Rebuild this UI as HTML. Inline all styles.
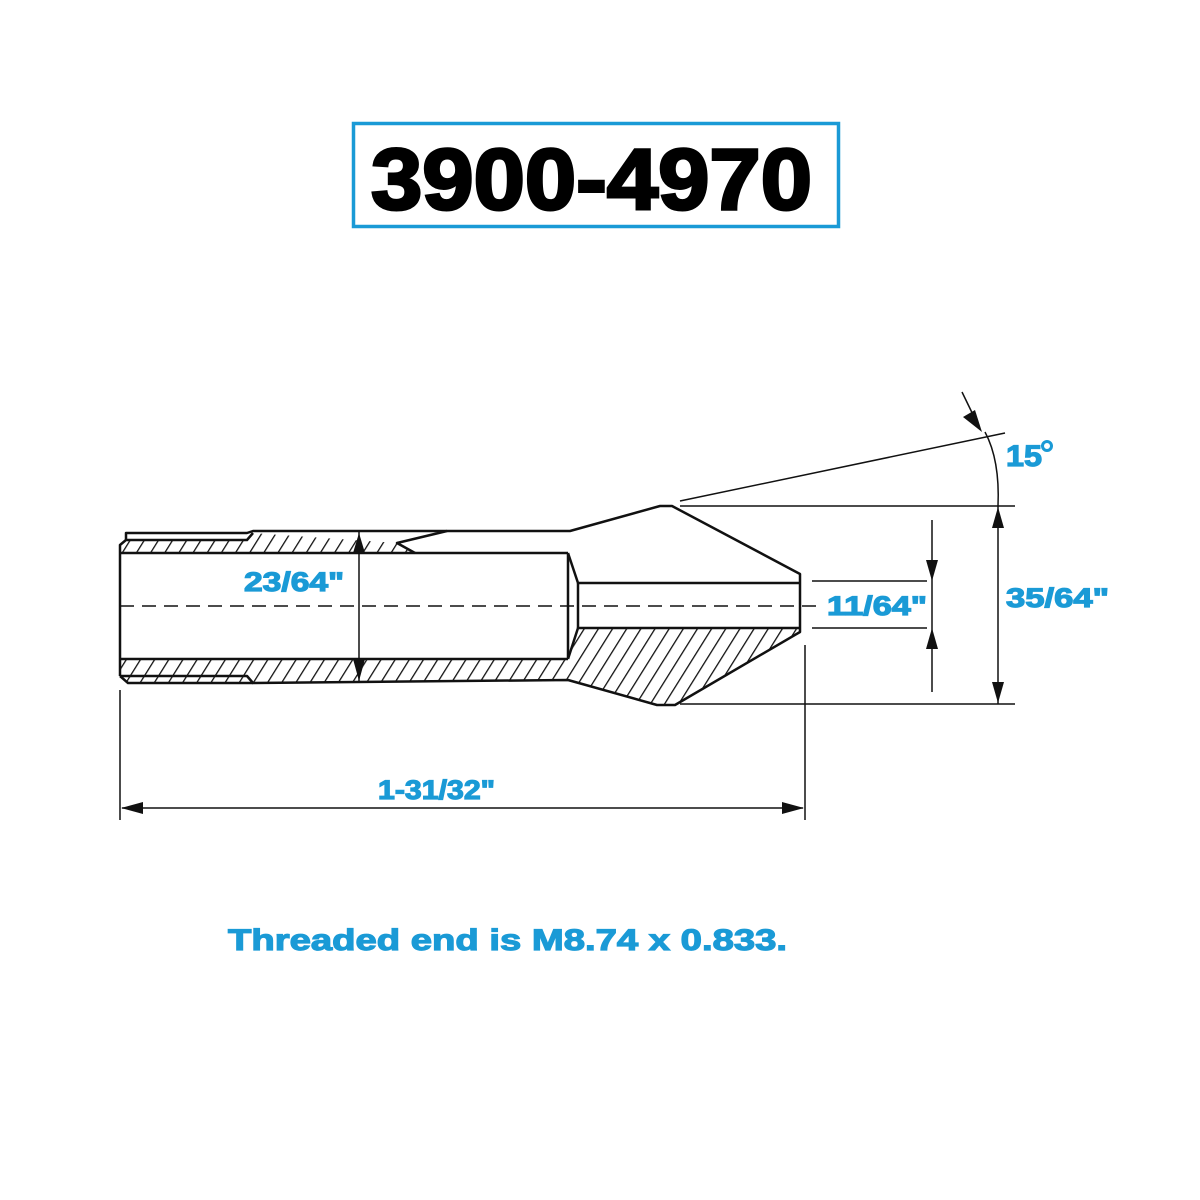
<!DOCTYPE html>
<html><head><meta charset="utf-8"><style>
html,body{margin:0;padding:0;background:#fff;}
svg{display:block;}
text{font-family:"Liberation Sans",Arial,sans-serif;font-weight:bold;}
</style></head><body>
<svg width="1200" height="1200" viewBox="0 0 1200 1200" xmlns="http://www.w3.org/2000/svg">
<defs>
<pattern id="h" patternUnits="userSpaceOnUse" width="12" height="12" patternTransform="rotate(32)">
<line x1="0" y1="0" x2="0" y2="12" stroke="#111" stroke-width="2.6"/>
</pattern>
</defs>
<rect x="0" y="0" width="1200" height="1200" fill="#fff"/>
<!-- title -->
<rect x="353.5" y="123.5" width="485" height="103" fill="none" stroke="#1a9ad6" stroke-width="3.5"/>
<text x="371" y="209" font-size="86" fill="#000" stroke="#000" stroke-width="3" textLength="441" lengthAdjust="spacingAndGlyphs">3900-4970</text>

<!-- hatched areas -->
<g fill="url(#h)">
<polygon points="120,540 253,540 253,533 397,543 415,553 120,553"/>
<polygon points="120,659 568,659 568,680 253,683 253,682 120,682"/>
<polygon points="578,628 800,628 800,632 675,705 657,705 568,680 568,659 578,628"/>
</g>

<g fill="none" stroke="#111" stroke-width="2.5" stroke-linejoin="round">
<polyline points="120,676 120,545 126,540 247,540 253,533"/>
<polyline points="126,540 126,533 247,533 253,531 570,531 660,506 672,506 800,574 800,632 675,705 657,705 568,680 253,683 247,676 126,676 120,676"/>
<polyline points="120,676 128,683 253,683"/>
<line x1="120" y1="553" x2="568" y2="553"/>
<line x1="120" y1="659" x2="568" y2="659"/>
<line x1="568" y1="553" x2="568" y2="659"/>
<polyline points="568,553 578,583 800,583"/>
<polyline points="568,659 578,628 800,628"/>
<line x1="578" y1="583" x2="578" y2="628"/>
<polyline points="415,553 397,543 447,531"/>
</g>

<line x1="120" y1="606" x2="818" y2="606" stroke="#111" stroke-width="1.5" stroke-dasharray="14,8"/>

<g stroke="#111" stroke-width="1.5" fill="none">
<line x1="359" y1="531" x2="359" y2="683"/>
<line x1="680" y1="506" x2="1015" y2="506"/>
<line x1="680" y1="704" x2="1015" y2="704"/>
<line x1="812" y1="581" x2="927" y2="581"/>
<line x1="812" y1="628" x2="927" y2="628"/>
<line x1="932" y1="520" x2="932" y2="692"/>
<line x1="998" y1="506" x2="998" y2="704"/>
<line x1="680" y1="501" x2="1005" y2="433"/>
<path d="M998,506 Q1000,460 985,432"/>
<line x1="962" y1="392" x2="978" y2="425"/>
<line x1="120" y1="690" x2="120" y2="820"/>
<line x1="805" y1="645" x2="805" y2="820"/>
<line x1="122" y1="808" x2="803" y2="808"/>
</g>

<g fill="#111">
<polygon points="359,533 353,553 365,553"/>
<polygon points="359,681 353,659 365,659"/>
<polygon points="932,581 926,560 938,560"/>
<polygon points="932,628 926,649 938,649"/>
<polygon points="998,507 992,528 1004,528"/>
<polygon points="998,703 992,682 1004,682"/>
<polygon points="982,432 963,417 975,410"/>
<polygon points="121,808 143,802 143,814"/>
<polygon points="804,808 782,802 782,814"/>
</g>

<g fill="#1a9ad6" stroke="#1a9ad6" stroke-width="1.2">
<text x="244" y="591" font-size="27" textLength="100" lengthAdjust="spacingAndGlyphs">23/64"</text>
<text x="827" y="615" font-size="27" textLength="100" lengthAdjust="spacingAndGlyphs">11/64"</text>
<text x="1006" y="607" font-size="27" textLength="103" lengthAdjust="spacingAndGlyphs">35/64"</text>
<text x="1006" y="466" font-size="30" textLength="36" lengthAdjust="spacingAndGlyphs">15</text>
<text x="378" y="799" font-size="27" textLength="117" lengthAdjust="spacingAndGlyphs">1-31/32"</text>
<text x="228" y="950" font-size="30" textLength="559" lengthAdjust="spacingAndGlyphs">Threaded end is M8.74 x 0.833.</text>
</g>
<circle cx="1047" cy="446" r="4.5" fill="none" stroke="#1a9ad6" stroke-width="3"/>
</svg>
</body></html>
